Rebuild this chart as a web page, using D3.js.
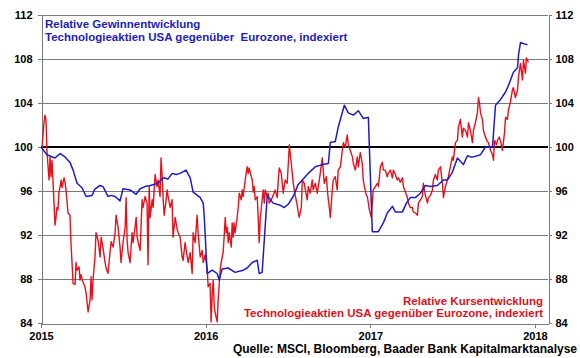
<!DOCTYPE html>
<html><head><meta charset="utf-8">
<script src="https://cdn.jsdelivr.net/npm/d3@7"></script>
<style>
body{margin:0;background:#fff}
svg{display:block}
text{font-family:"Liberation Sans",Arial,sans-serif;font-weight:bold;white-space:pre}
</style>
</head><body>
<svg id="c" width="580" height="358"></svg>
<script>
const yTicks=[84,88,92,96,100,104,108,112];
const xTicks=[2015,2016,2017,2018];
const blueLabel=["Relative Gewinnentwicklung","Technologieaktien USA gegenüber  Eurozone, indexiert"];
const redLabel=["Relative Kursentwicklung","Technologieaktien USA gegenüber Eurozone, indexiert"];
const sourceText="Quelle: MSCI, Bloomberg, Baader Bank Kapitalmarktanalyse";

const blueYears=[2015.000,2015.036,2015.085,2015.116,2015.146,2015.176,2015.195,2015.219,2015.249,2015.274,2015.310,2015.328,2015.359,2015.377,2015.407,2015.426,2015.450,2015.480,2015.498,2015.541,2015.578,2015.602,2015.632,2015.663,2015.711,2015.742,2015.772,2015.796,2015.821,2015.845,2015.881,2015.906,2015.924,2015.967,2015.985,2015.991,2016.009,2016.040,2016.070,2016.082,2016.100,2016.137,2016.179,2016.228,2016.252,2016.283,2016.313,2016.325,2016.343,2016.362,2016.374,2016.410,2016.453,2016.477,2016.502,2016.532,2016.562,2016.587,2016.623,2016.666,2016.708,2016.745,2016.757,2016.787,2016.805,2016.842,2016.866,2016.897,2016.927,2016.957,2016.988,2017.012,2017.049,2017.079,2017.103,2017.134,2017.152,2017.195,2017.219,2017.243,2017.274,2017.304,2017.334,2017.365,2017.407,2017.444,2017.468,2017.498,2017.529,2017.565,2017.590,2017.608,2017.626,2017.669,2017.699,2017.742,2017.760,2017.790,2017.821,2017.839,2017.869,2017.894,2017.900,2017.912,2017.930,2017.954];
const blueValues=[100.0,99.3,99.0,99.4,99.1,98.6,97.9,96.7,96.3,95.5,95.6,96.2,96.5,96.4,95.5,95.6,95.5,95.1,96.2,96.1,95.7,96.2,96.4,96.5,96.7,97.2,97.1,97.6,97.5,97.6,97.9,97.2,95.9,95.4,94.9,93.8,88.5,88.8,88.5,87.9,88.9,89.0,88.6,88.8,89.0,89.5,89.7,88.5,88.6,92.9,95.6,94.9,94.7,94.5,94.8,95.5,96.6,97.0,97.6,98.2,98.4,98.5,100.4,100.5,101.8,103.8,103.1,102.9,103.3,102.6,102.7,92.3,92.3,93.1,94.0,94.6,94.1,94.1,94.9,95.4,95.4,95.8,96.5,96.4,96.5,97.0,97.0,97.7,99.0,98.4,99.2,99.1,99.1,99.3,100.0,100.0,103.8,104.3,105.0,105.6,106.8,107.2,108.4,109.5,109.4,109.3];

const redYears=[2015.006,2015.018,2015.024,2015.030,2015.036,2015.043,2015.049,2015.055,2015.061,2015.067,2015.079,2015.085,2015.091,2015.097,2015.103,2015.109,2015.116,2015.122,2015.128,2015.140,2015.146,2015.152,2015.164,2015.176,2015.182,2015.195,2015.207,2015.213,2015.219,2015.231,2015.237,2015.243,2015.255,2015.267,2015.274,2015.286,2015.298,2015.304,2015.310,2015.316,2015.328,2015.334,2015.347,2015.359,2015.365,2015.377,2015.389,2015.395,2015.407,2015.419,2015.426,2015.438,2015.450,2015.456,2015.468,2015.480,2015.486,2015.498,2015.511,2015.517,2015.523,2015.529,2015.541,2015.553,2015.559,2015.571,2015.578,2015.584,2015.590,2015.602,2015.614,2015.620,2015.632,2015.644,2015.650,2015.657,2015.663,2015.675,2015.681,2015.693,2015.705,2015.711,2015.723,2015.729,2015.736,2015.742,2015.748,2015.760,2015.766,2015.772,2015.784,2015.796,2015.802,2015.815,2015.827,2015.833,2015.845,2015.857,2015.863,2015.875,2015.888,2015.894,2015.906,2015.918,2015.924,2015.936,2015.948,2015.954,2015.967,2015.979,2015.985,2015.997,2016.009,2016.015,2016.027,2016.033,2016.040,2016.046,2016.052,2016.058,2016.070,2016.076,2016.088,2016.094,2016.106,2016.112,2016.119,2016.125,2016.131,2016.137,2016.143,2016.155,2016.161,2016.167,2016.173,2016.179,2016.191,2016.198,2016.204,2016.216,2016.222,2016.228,2016.240,2016.252,2016.258,2016.264,2016.277,2016.283,2016.289,2016.295,2016.301,2016.313,2016.319,2016.325,2016.331,2016.343,2016.350,2016.356,2016.362,2016.374,2016.380,2016.386,2016.398,2016.410,2016.422,2016.435,2016.441,2016.447,2016.459,2016.465,2016.471,2016.483,2016.495,2016.502,2016.508,2016.520,2016.526,2016.532,2016.544,2016.556,2016.562,2016.568,2016.581,2016.587,2016.599,2016.605,2016.617,2016.623,2016.635,2016.647,2016.653,2016.666,2016.678,2016.684,2016.696,2016.708,2016.714,2016.720,2016.733,2016.739,2016.745,2016.751,2016.757,2016.769,2016.775,2016.787,2016.799,2016.805,2016.818,2016.830,2016.836,2016.848,2016.860,2016.866,2016.878,2016.891,2016.897,2016.909,2016.921,2016.927,2016.939,2016.951,2016.957,2016.964,2016.976,2016.982,2016.994,2017.006,2017.012,2017.018,2017.030,2017.043,2017.049,2017.061,2017.073,2017.079,2017.091,2017.103,2017.109,2017.122,2017.134,2017.140,2017.152,2017.164,2017.170,2017.182,2017.195,2017.201,2017.213,2017.225,2017.231,2017.243,2017.255,2017.261,2017.274,2017.286,2017.292,2017.304,2017.316,2017.322,2017.334,2017.347,2017.353,2017.365,2017.377,2017.383,2017.395,2017.407,2017.413,2017.426,2017.438,2017.444,2017.456,2017.468,2017.474,2017.486,2017.498,2017.504,2017.517,2017.529,2017.535,2017.547,2017.559,2017.565,2017.578,2017.590,2017.596,2017.608,2017.620,2017.626,2017.638,2017.650,2017.657,2017.663,2017.669,2017.681,2017.687,2017.699,2017.711,2017.717,2017.730,2017.742,2017.748,2017.754,2017.766,2017.772,2017.784,2017.796,2017.802,2017.815,2017.821,2017.833,2017.839,2017.851,2017.863,2017.869,2017.881,2017.894,2017.900,2017.912,2017.924,2017.930,2017.942,2017.948,2017.960];
const redValues=[99.9,102.2,102.9,102.5,99.7,98.2,97.0,99.1,97.3,98.8,94.9,92.9,93.6,94.5,94.3,95.9,96.4,97.0,96.3,97.2,96.8,96.1,94.0,93.8,91.3,87.6,87.5,89.5,88.8,89.1,87.9,88.4,87.7,87.3,86.7,85.0,86.1,88.2,86.1,87.9,90.0,92.2,91.5,90.0,91.8,90.8,89.5,89.0,88.5,90.4,91.4,90.9,92.2,93.8,92.7,90.9,89.5,91.3,92.7,95.4,91.5,90.4,89.5,92.2,91.3,92.7,93.6,91.8,91.3,90.6,95.2,94.5,95.5,94.9,89.3,96.4,93.6,95.2,94.5,97.5,96.4,97.0,95.5,99.0,97.3,95.2,93.8,95.2,96.1,95.5,94.5,95.2,91.8,93.6,92.5,92.2,91.8,90.0,89.7,91.3,90.0,89.5,90.4,88.5,92.2,91.3,93.8,92.2,90.0,90.6,89.5,90.2,89.0,87.3,87.6,84.1,86.7,87.9,85.5,84.9,84.1,86.1,88.8,89.5,90.4,91.8,93.6,92.2,92.7,91.3,92.2,90.9,93.1,91.8,93.1,92.2,93.6,94.5,95.8,95.2,96.1,95.5,97.0,98.2,97.6,98.1,97.3,97.0,95.9,96.4,95.2,95.5,93.6,91.3,93.4,95.2,96.1,94.9,96.1,95.5,95.8,94.9,95.2,95.6,96.1,95.4,97.0,98.1,97.6,96.7,95.8,97.0,96.7,98.5,100.2,98.5,97.6,96.7,95.6,94.7,94.1,93.6,94.5,97.0,96.7,96.1,95.2,96.4,95.8,97.0,96.1,96.7,95.8,96.4,97.6,99.0,97.9,96.7,97.3,96.1,95.2,94.5,93.6,96.1,97.0,97.3,96.1,97.9,98.2,99.7,100.4,100.0,101.1,100.2,99.7,99.1,98.5,97.9,99.1,98.2,99.5,98.5,97.0,96.4,95.6,95.5,94.3,93.6,94.9,96.1,96.4,96.7,96.4,98.2,98.6,97.9,97.9,97.3,97.6,97.9,97.2,97.9,97.5,97.0,97.2,96.8,97.2,96.4,95.9,95.4,94.9,94.5,94.5,94.1,94.0,93.8,94.9,95.2,95.5,96.7,95.6,94.9,95.4,95.6,96.1,97.0,97.5,97.0,97.9,98.2,96.7,95.4,96.4,97.0,97.3,98.2,99.1,98.8,100.4,100.6,101.8,102.5,100.9,101.7,101.5,100.9,102.2,101.5,100.4,101.5,102.2,103.1,104.5,104.0,103.1,102.5,101.5,100.9,100.5,100.4,99.7,99.3,98.8,100.6,100.2,100.6,100.9,100.2,99.7,101.3,102.7,102.5,103.4,104.1,105.2,105.4,104.5,105.2,106.4,107.6,106.1,107.9,106.7,108.1,107.7];

const L=41,R=548,T=15,B=323;
const svg=d3.select("#c");
const x=d3.scaleLinear().domain([2015,2018.079]).range([L,R]);
const y=d3.scaleLinear().domain([84,112]).range([B,T]);
const gridColor="#7a7a7a";

// gridlines
const grid=svg.append("g").attr("shape-rendering","crispEdges");
grid.selectAll("line").data(yTicks.filter(d=>d!==84 && d!==100)).join("line")
  .attr("x1",L).attr("x2",R).attr("y1",d=>Math.round(y(d))+0.5).attr("y2",d=>Math.round(y(d))+0.5)
  .attr("stroke",gridColor).attr("stroke-width",1);

// left axis
const gl=svg.append("g").attr("transform",`translate(${L+0.5},0)`)
  .call(d3.axisLeft(y).tickValues(yTicks).tickSize(4).tickSizeOuter(0).tickPadding(5).tickFormat(d3.format("d")));
// right axis
const gr=svg.append("g").attr("transform",`translate(${R+0.5},0)`)
  .call(d3.axisRight(y).tickValues(yTicks).tickSize(3).tickSizeOuter(0).tickPadding(4).tickFormat(d3.format("d")));
// bottom axis
const gb=svg.append("g").attr("transform",`translate(0,${B+0.5})`)
  .call(d3.axisBottom(x).tickValues(xTicks).tickSize(4).tickSizeOuter(0).tickPadding(5).tickFormat(d3.format("d")));
[gl,gr,gb].forEach(g=>{
  g.attr("shape-rendering","crispEdges");
  g.selectAll("path,line").attr("stroke",gridColor);
  g.selectAll("text").attr("fill","#000").style("font-size","11px").style("font-weight","bold");
});

// 100 line
svg.append("line").attr("x1",L).attr("x2",R).attr("y1",y(100)).attr("y2",y(100))
  .attr("stroke","#000").attr("stroke-width",2);

const line=d3.line().x(d=>x(d[0])).y(d=>y(d[1]));
const redData=redYears.map((d,i)=>[d,redValues[i]]);
const blueData=blueYears.map((d,i)=>[d,blueValues[i]]);
svg.append("path").datum(redData).attr("d",line).attr("fill","none")
  .attr("stroke","#e8101a").attr("stroke-width",1.4).attr("stroke-linejoin","round");
svg.append("path").datum(blueData).attr("d",line).attr("fill","none")
  .attr("stroke","#1c1cc8").attr("stroke-width",1.5).attr("stroke-linejoin","round");

// labels
svg.append("g").selectAll("text").data(blueLabel).join("text")
  .attr("x",45).attr("y",(d,i)=>28+i*13).attr("fill","#1c1cc0").style("font-size","11.5px").text(d=>d);
svg.append("g").selectAll("text").data(redLabel).join("text")
  .attr("x",543).attr("y",(d,i)=>305+i*12).attr("text-anchor","end").attr("fill","#e0101a").style("font-size","11.5px").text(d=>d);
svg.append("text").attr("x",577).attr("y",353).attr("text-anchor","end").attr("fill","#000")
  .style("font-size","12px").text(sourceText);
</script>
</body></html>
